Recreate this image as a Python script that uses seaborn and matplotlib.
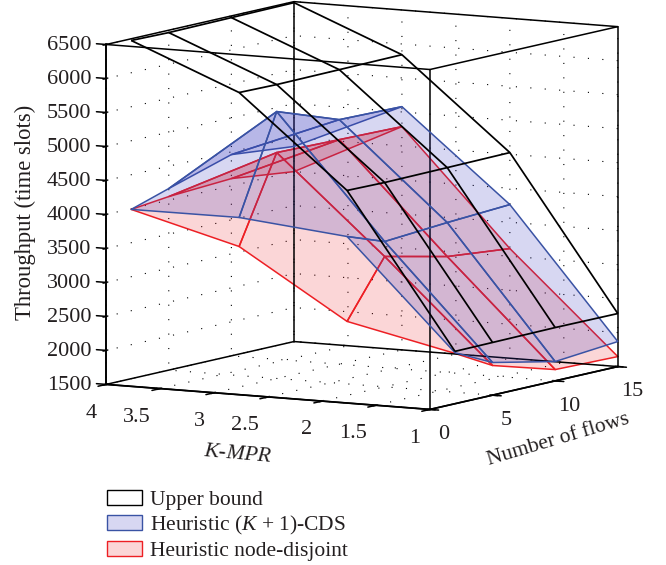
import numpy as np
import matplotlib
matplotlib.use('Agg')
import matplotlib.pyplot as plt
from matplotlib.patches import Patch
import seaborn as sns

k_values = [1, 2, 3, 4]
flow_values = [2, 5, 10, 15]

# rows are K = 1, 2, 3, 4, columns are flows = 2, 5, 10, 15
upper_bound = [
    [2270, 2275, 2284, 2280],
    [4514, 4505, 4514, 4525],
    [5832, 5823, 5832, 5842],
    [6475, 6465, 6475, 6485],
]
heuristic_cds = [
    [2250, 1980, 1784, 1868],
    [3837, 3637, 3706, 3760],
    [3994, 5426, 5097, 5078],
    [3990, 4171, 4460, 4370],
]
heuristic_disjoint = [
    [2240, 1936, 1666, 1647],
    [2588, 3417, 3206, 3113],
    [3567, 4823, 4803, 4784],
    [3990, 4053, 4107, 4000],
]

k_ticks = [1, 1.5, 2, 2.5, 3, 3.5, 4]
k_ticklabels = ['1', '1.5', '2', '2.5', '3', '3.5', '4']
flow_ticks = [0, 5, 10, 15]
z_ticks = [1500, 2000, 2500, 3000, 3500, 4000, 4500, 5000, 5500, 6000, 6500]

sns.set_theme(style='ticks', font='Liberation Serif')
plt.rcParams['mathtext.fontset'] = 'custom'
plt.rcParams['mathtext.rm'] = 'Liberation Serif'
plt.rcParams['mathtext.it'] = 'Liberation Serif:italic'

blue = '#3a53a4'
red = '#ed1f24'
blue_fill = (55 / 255, 55 / 255, 190 / 255, 0.2)
red_fill = (237 / 255, 31 / 255, 36 / 255, 0.18)
text_color = '#231f20'

fig = plt.figure(figsize=(6.66, 5.65), dpi=100)
ax = fig.add_subplot(projection='3d', computed_zorder=True)
ax.set_proj_type('ortho')
ax.view_init(elev=7.63, azim=-59.8)
ax.set_box_aspect((374.7, 373.5, 343))
ax.set_position([47.7 / 666, 45.2 / 565, 612 / 666, 612 / 565])

K, F = np.meshgrid(k_values, flow_values, indexing='ij')
ax.plot_surface(K, F, np.array(heuristic_disjoint), rstride=1, cstride=1, shade=False,
                color=red_fill, edgecolor=red, linewidth=1.1)
ax.plot_surface(K, F, np.array(heuristic_cds), rstride=1, cstride=1, shade=False,
                color=blue_fill, edgecolor=blue, linewidth=1.1)
ax.plot_wireframe(K, F, np.array(upper_bound), rstride=1, cstride=1, color='black', linewidth=1.25)

ax.set_xlim(4, 1)
ax.set_ylim(0, 15)
ax.set_zlim(1500, 6500)
ax.set_xticks(k_ticks, k_ticklabels)
ax.set_yticks(flow_ticks)
ax.set_zticks(z_ticks)
ax.tick_params(labelsize=16, labelcolor=text_color)
ax.tick_params(axis='x', pad=3.5)
ax.tick_params(axis='y', pad=2)
ax.tick_params(axis='z', pad=8.5)
ax.zaxis.set_ticks_position('lower')

for axis in (ax.xaxis, ax.yaxis, ax.zaxis):
    axis.set_pane_color((1, 1, 1, 0))
    axis.line.set_color('black')
    axis._axinfo['grid'].update(color='black', linewidth=0.8, linestyle=(0, (1, 12)))

# whole box outline, the panes only give part of it
box_x = (4, 1)
box_y = (0, 15)
box_z = (1500, 6500)
for y in box_y:
    for z in box_z:
        ax.plot(box_x, [y, y], [z, z], color='black', linewidth=1.1)
for x in box_x:
    for z in box_z:
        ax.plot([x, x], box_y, [z, z], color='black', linewidth=1.1)
for x in box_x:
    for y in box_y:
        ax.plot([x, x], [y, y], box_z, color='black', linewidth=1.1)

# tick marks, drawn outward from the box edges
for z in z_ticks:
    ax.plot([4, 4.09], [0, 0], [z, z], color='black', linewidth=1.1)
for k in k_ticks:
    ax.plot([k, k], [0, -0.65], [1500, 1500], color='black', linewidth=1.1)
for f in flow_ticks:
    ax.plot([1, 0.92], [f, f], [1500, 1500], color='black', linewidth=1.1)

# tick label alignment is all that mplot3d leaves alone at draw time
for t in ax.xaxis.get_major_ticks():
    t.label1.set_ha('right')
for t in ax.zaxis.get_major_ticks():
    t.label1.set_va('center')

# axis labels placed by hand, mplot3d resets their transform when drawing
fig.text(238 / 666, 1 - 455 / 565, '$K$-$MPR$', fontsize=15.7, color=text_color,
         ha='center', va='center', rotation=-5, rotation_mode='anchor')
fig.text(558 / 666, 1 - 440 / 565, 'Number of flows', fontsize=15.5, color=text_color,
         ha='center', va='center', rotation=16.5, rotation_mode='anchor')
fig.text(25 / 666, 1 - 212 / 565, 'Throughput (time slots)', fontsize=16.3, color=text_color,
         ha='center', va='center', rotation=90, rotation_mode='anchor')

handles = [
    Patch(facecolor='white', edgecolor='black', label='Upper bound'),
    Patch(facecolor=blue_fill, edgecolor=blue, label='Heuristic ($K$ + 1)-CDS'),
    Patch(facecolor=red_fill, edgecolor=red, label='Heuristic node-disjoint'),
]
fig.legend(handles=handles, loc='lower left', bbox_to_anchor=(0.154, 0.0), frameon=False,
           fontsize=15.5, labelcolor=text_color, handlelength=1.63, handleheight=0.7,
           labelspacing=0.17, handletextpad=0.37, borderpad=0.1, borderaxespad=0.1)

fig.savefig('out.png', dpi=100)
